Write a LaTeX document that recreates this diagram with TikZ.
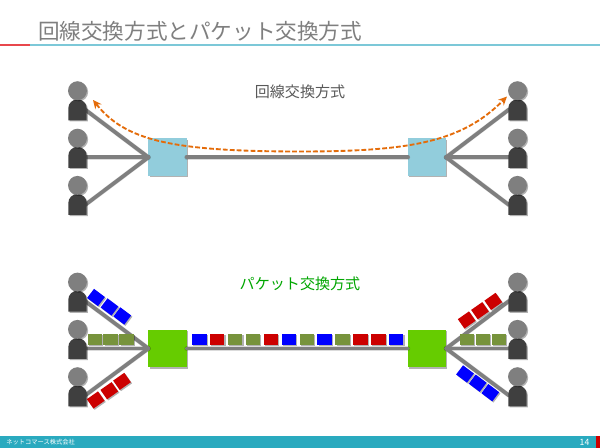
\documentclass[tikz,border=0pt]{standalone}
\usepackage{fontspec}
\setmainfont{Noto Sans CJK JP}
\usetikzlibrary{shadows,arrows.meta}
\definecolor{linegray}{HTML}{7F7F7F}
\definecolor{headgray}{HTML}{7F7F7F}
\definecolor{bodygray}{HTML}{3F3F3F}
\definecolor{hubblue}{HTML}{92CDDC}
\definecolor{hubgreen}{HTML}{66CC00}
\definecolor{pblue}{HTML}{0000FF}
\definecolor{pred}{HTML}{CC0000}
\definecolor{pgreen}{HTML}{77933C}
\definecolor{footteal}{HTML}{2AAABF}
\definecolor{ruleteal}{HTML}{7CC8D8}
\definecolor{rulered}{HTML}{E8474C}
\definecolor{arcorange}{HTML}{E46C0A}
\tikzset{
  softshadow/.style={drop shadow={shadow xshift=.9pt,shadow yshift=-.9pt,opacity=.3,fill=black}},
  hub/.style={minimum width=28.6pt,minimum height=28.4pt,inner sep=0pt,outer sep=0pt,softshadow},
  link/.style={draw=linegray,line width=2.8pt,line cap=round},
  linkshade/.style={draw=black,opacity=.14,line width=3.4pt,line cap=round,shift={(1.2,1.5)}},
  head/.style={circle,fill=headgray,minimum size=14.2pt,inner sep=0pt,softshadow},
  body/.style={fill=bodygray,softshadow},
  packet/.style={minimum width=10.8pt,minimum height=7.8pt,inner sep=0pt,fill=#1,softshadow},
  tilted/.style={packet=#1,minimum width=10.2pt,minimum height=8.6pt},
  heading/.style={font=\fontsize{11.3pt}{13pt}\selectfont,inner sep=0pt},
  crossing/.style={draw=arcorange,line width=1.4pt,dash pattern=on 3.6pt off 1.6pt,{Stealth[length=6.5pt,width=6pt]}-{Stealth[length=6.5pt,width=6pt]}}
}
% #1 name, #2 x, #3 y of the body's top
\newcommand{\personfig}[3]{%
  \path[body] (#2-9.2,#3+21) -- (#2-9.2,#3+9) arc[start angle=180,end angle=360,x radius=9.2,y radius=9] -- (#2+9.2,#3+21) -- cycle;
  \node[head] (#1h) at (#2,#3-8.6) {};
  \coordinate (#1) at (#2,#3+12);
}
\begin{document}
\begin{tikzpicture}[x=.75pt,y=-.75pt]
\useasboundingbox (0,0) rectangle (600,448);
\fill[white] (0,0) rectangle (600,448);
% header
\node[font=\fontsize{16.2pt}{20pt}\selectfont,text=linegray,inner sep=0pt] (title) at (200,31) {回線交換方式とパケット交換方式};
\fill[ruleteal] (30,44.5) rectangle (600,46.5);
\fill[rulered] (0,44.5) rectangle (30,46.5);
% footer
\fill[footteal] (0,436.5) rectangle (600,448);
\fill[pred] (596,436.5) rectangle (600,448);
\node[font=\fontsize{4.7pt}{5pt}\selectfont,text=white,anchor=west,inner sep=0pt] (company) at (6,442.5) {ネットコマース株式会社};
\node[font=\fontsize{6.5pt}{7pt}\selectfont,text=white,inner sep=0pt] (page) at (584.5,442) {14};
% labels
\node[heading,text=black!65] (lab1) at (300,92) {回線交換方式};
\node[heading,text=green!65!black] (lab2) at (300,284) {パケット交換方式};
% end points (people positions)
\coordinate (la) at (85,109.5); \coordinate (lb) at (85,157.3); \coordinate (lc) at (85,205);
\coordinate (ra) at (509,109.5); \coordinate (rb) at (509,157.3); \coordinate (rc) at (509,205);
\coordinate (pla) at (85,301); \coordinate (plb) at (85,348.5); \coordinate (plc) at (85,395.5);
\coordinate (pra) at (509,301); \coordinate (prb) at (509,348.5); \coordinate (prc) at (509,395.5);
% hubs
\node[hub,fill=hubblue] (h1) at (167.5,157.3) {};
\node[hub,fill=hubblue] (h2) at (427,157.3) {};
\node[hub,fill=hubgreen] (h3) at (167.5,348.5) {};
\node[hub,fill=hubgreen] (h4) at (427,348.5) {};
% connector shading
\foreach \a/\b in {la/h1.west,lb/h1.west,lc/h1.west,ra/h2.east,rb/h2.east,rc/h2.east,h1.east/h2.west,
                   pla/h3.west,plb/h3.west,plc/h3.west,pra/h4.east,prb/h4.east,prc/h4.east,h3.east/h4.west}
  \draw[linkshade] (\a) -- (\b);
% connectors
\foreach \a/\b in {la/h1.west,lb/h1.west,lc/h1.west,ra/h2.east,rb/h2.east,rc/h2.east,h1.east/h2.west,
                   pla/h3.west,plb/h3.west,plc/h3.west,pra/h4.east,prb/h4.east,prc/h4.east,h3.east/h4.west}
  \draw[link] (\a) -- (\b);
% people
\personfig{p1}{77.5}{99.3}\personfig{p2}{77.5}{146.8}\personfig{p3}{77.5}{194}
\personfig{p4}{517.5}{99.3}\personfig{p5}{517.5}{146.8}\personfig{p6}{517.5}{194}
\personfig{p7}{77.5}{290.7}\personfig{p8}{77.5}{338}\personfig{p9}{77.5}{385.3}
\personfig{p10}{517.5}{290.7}\personfig{p11}{517.5}{338}\personfig{p12}{517.5}{385.3}
% packets left
\foreach \n/\x/\y in {a/96/297.5,b/109.5/307,c/122.3/316}
  \node[tilted=pblue,rotate=-37] (lb\n) at (\x,\y) {};
\foreach \n/\x in {a/94.7,b/110.5,c/126.6}
  \node[packet=pgreen] (lg\n) at (\x,339.5) {};
\foreach \n/\x/\y in {a/95.7/400,b/109.3/390.7,c/122/381.4}
  \node[tilted=pred,rotate=35] (lr\n) at (\x,\y) {};
% packets right
\foreach \n/\x/\y in {a/466.7/320,b/480/310.7,c/493.3/301.4}
  \node[tilted=pred,rotate=35] (rr\n) at (\x,\y) {};
\foreach \n/\x in {a/467,b/483,c/499}
  \node[packet=pgreen] (rg\n) at (\x,339.5) {};
\foreach \n/\x/\y in {a/465/374,b/477.7/383.2,c/490.3/392.7}
  \node[tilted=pblue,rotate=-37] (rb\n) at (\x,\y) {};
% packets on trunk
\foreach \i/\c in {0/pblue,1/pred,2/pgreen,3/pgreen,4/pred,5/pblue,6/pgreen,7/pblue,8/pgreen,9/pred,10/pred,11/pblue}
  \node[packet=\c] (t\i) at ({199.3+17.9*\i},339.4) {};
% circuit path
\coordinate (arcl) at (93,100);
\coordinate (arcm) at (300,151.5);
\coordinate (arcr) at (507,96.5);
\draw[crossing] (arcl) .. controls (125,140) and (170,151.5) .. (arcm) .. controls (410,151.5) and (462,142) .. (arcr);
\end{tikzpicture}
\end{document}
